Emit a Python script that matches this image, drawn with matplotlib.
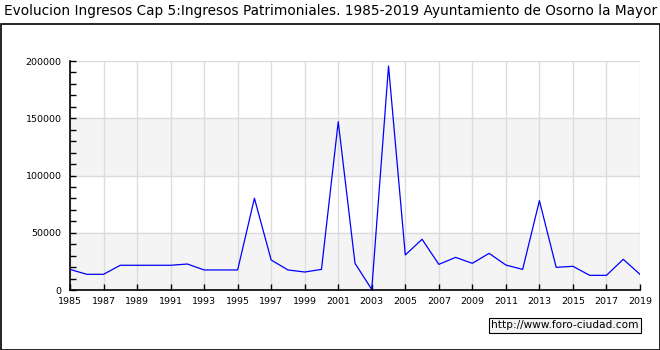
import matplotlib.pyplot as plt
from matplotlib.patches import Rectangle
from matplotlib.ticker import MultipleLocator

years = list(range(1985, 2020))
ingresos = [
    18000, 13700, 13700, 21600, 21600, 21600, 21600, 22700, 17500, 17500,
    17500, 80100, 26200, 17500, 15700, 18000, 147000, 23300, 500, 195600,
    30600, 44300, 22400, 28500, 23300, 32000, 21800, 18000, 78000, 19800,
    20700, 12800, 12800, 26800, 13700,
]
x_ticks = list(range(1985, 2020, 2))
y_ticks = [0, 50000, 100000, 150000, 200000]

title = "Evolucion Ingresos Cap 5:Ingresos Patrimoniales. 1985-2019 Ayuntamiento de Osorno la Mayor"
watermark = "http://www.foro-ciudad.com"

fig = plt.figure(figsize=(6.6, 3.5), dpi=100)
fig.patch.set_facecolor("white")

# outer frame below the title
fig.add_artist(Rectangle((0.5 / 660, 0.5 / 350), 659 / 660, 326 / 350,
                         transform=fig.transFigure, fill=False,
                         edgecolor="black", linewidth=1.2))
fig.text(4 / 660, 1 - 11 / 350, title, fontsize=9.8, va="center", ha="left",
         color="black")

ax = fig.add_axes([70 / 660, 60 / 350, 570 / 660, 229 / 350])
ax.set_xlim(1985, 2019)
ax.set_ylim(0, 200000)

# alternating bands
for i in range(len(y_ticks) - 1):
    if i % 2 == 0:
        ax.axhspan(y_ticks[i], y_ticks[i + 1], color="#f4f4f4", zorder=0)

for yr in x_ticks:
    ax.axvline(yr, color="#dcdcdc", linewidth=1, zorder=1)
for v in y_ticks[1:]:
    ax.axhline(v, color="#dcdcdc", linewidth=1, zorder=1)

ax.plot(years, ingresos, color="blue", linewidth=0.9, zorder=3)

ax.set_xticks(x_ticks)
ax.set_xticklabels([str(y) for y in x_ticks])
ax.set_yticks(y_ticks)
ax.set_yticklabels([str(v) for v in y_ticks])
ax.yaxis.set_minor_locator(MultipleLocator(10000))
ax.tick_params(axis="both", direction="in", length=4, width=1, labelsize=6.8)
ax.tick_params(axis="y", which="minor", direction="in", length=4, width=1)
ax.tick_params(axis="y", pad=6)
ax.tick_params(axis="x", pad=5)

ax.spines["top"].set_visible(False)
ax.spines["right"].set_visible(False)
ax.spines["left"].set_linewidth(1.2)
ax.spines["bottom"].set_linewidth(1.2)
ax.set_facecolor("white")

fig.text(565 / 660, 1 - 325.5 / 350, watermark, fontsize=7.6, ha="center",
         va="center", color="black",
         bbox=dict(boxstyle="square,pad=0.25", facecolor="#f4f4f4",
                   edgecolor="black", linewidth=0.8))

fig.savefig("out.png", dpi=100)
